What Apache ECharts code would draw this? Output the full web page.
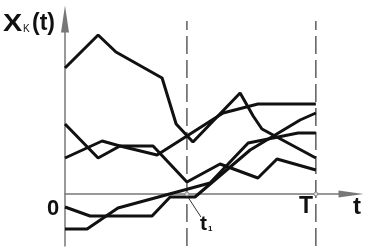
<!DOCTYPE html>
<html><head><meta charset="utf-8">
<script src="https://cdn.jsdelivr.net/npm/echarts@6/dist/echarts.min.js"></script>
<style>html,body{margin:0;padding:0;background:#fff}#c{width:372px;height:249px}</style>
</head><body><div id="c"></div>
<script>
// time positions (T = 10) and values for each trajectory x_k(t)
const tA = [0, 1.32, 2.03, 3.87, 4.43, 5.10, 6.98, 7.50, 7.85, 10];
const vA = [12.6, 15.9, 14.2, 11.6, 7.0, 5.2, 10.1, 7.8, 6.5, 3.6];
const tB = [0, 1.48, 2.19, 3.51, 4.86, 6.18, 7.69, 8.45, 10];
const vB = [3.6, 5.3, 4.8, 4.8, 1.2, 3.0, 1.6, 3.5, 2.4];
const tC = [0, 1.32, 2.19, 3.67, 6.30, 7.69, 10];
const vC = [7.0, 3.6, 4.8, 3.9, 8.1, 9.0, 9.0];
const tD = [0, 1.0, 3.47, 4.19, 5.18, 7.38, 9.37, 10];
const vD = [-1.3, -2.2, -2.2, -0.3, -0.3, 4.4, 7.4, 8.1];
const tE = [0, 0.88, 2.11, 5.78, 7.30, 9.29, 10];
const vE = [-3.5, -3.5, -1.4, 1.1, 5.1, 6.1, 6.1];
const t1 = 4.86;
const T = 10;
const yLabel = ['X', 'K', '(t)'];
const tickLabels = ['0', 't', '1', 'T', 't'];

const zip = (t, v) => t.map((x, i) => [x, v[i]]);
const curves = [[tA, vA], [tB, vB], [tC, vC], [tD, vD], [tE, vE]];
const yMin = -5.2, yMax = 17.5, dashTop = 17.3;

const chart = echarts.init(document.getElementById('c'), null, {renderer: 'canvas'});
const series = curves.map(([t, v]) => ({
  type: 'line', data: zip(t, v), symbol: 'none', silent: true,
  lineStyle: {color: '#111', width: 3}, z: 5
}));
[t1, T].forEach(x => series.push({
  type: 'line', data: [[x, yMin], [x, dashTop]], symbol: 'none', silent: true,
  lineStyle: {color: '#333', width: 1.2, type: [18, 6]}, z: 3
}));
series.push({
  type: 'scatter', data: [[t1, 0], [T, 0]], symbol: 'circle', symbolSize: 4,
  itemStyle: {color: '#fff', borderColor: '#777', borderWidth: 1}, z: 6, silent: true
});

chart.setOption({
  animation: false,
  backgroundColor: '#fff',
  grid: {left: 65, top: 19, width: 286, height: 227, containLabel: false, outerBoundsMode: 'none'},
  xAxis: {
    type: 'value', min: 0, max: 11.4,
    axisLine: {onZero: true, lineStyle: {color: '#777', width: 1.5}, symbol: ['none', 'triangle'], symbolSize: [7, 25]},
    axisTick: {show: false}, axisLabel: {show: false}, splitLine: {show: false}
  },
  yAxis: {
    type: 'value', min: yMin, max: yMax,
    axisLine: {show: true, lineStyle: {color: '#777', width: 1.5}, symbol: ['none', 'triangle'], symbolSize: [8, 27]},
    axisTick: {show: false}, axisLabel: {show: false}, splitLine: {show: false}
  },
  series: series
});

const o = chart.convertToPixel({gridIndex: 0}, [0, 0]);
const p1 = chart.convertToPixel({gridIndex: 0}, [t1, 0]);
const pT = chart.convertToPixel({gridIndex: 0}, [T, 0]);
const font = '"Liberation Sans", Arial, sans-serif';
const txt = (s, x, y, size, bold, sx) => ({
  type: 'text', x: x, y: y, scaleX: sx || 1, silent: true,
  style: {text: s, fontSize: size, fontWeight: bold ? 'bold' : 'normal', fontFamily: font, fill: '#111', align: 'left', verticalAlign: 'middle'}
});
chart.setOption({
  graphic: [
    txt(yLabel[0], 3, 24, 24, true, 1.2),
    txt(yLabel[1], 23, 29, 10, false),
    txt(yLabel[2], 32, 24, 23, true),
    txt(tickLabels[0], o[0] - 18, o[1] + 15, 22, true),
    txt(tickLabels[1], p1[0] + 13, p1[1] + 30, 21, true),
    txt(tickLabels[2], p1[0] + 21, p1[1] + 35, 8, true),
    txt(tickLabels[3], pT[0] - 17, pT[1] + 13, 23, true),
    txt(tickLabels[4], 353, o[1] + 13, 24, true),
    {type: 'line', silent: true, shape: {x1: p1[0] + 1, y1: p1[1] + 3, x2: p1[0] + 14, y2: p1[1] + 23}, style: {stroke: '#333', lineWidth: 1}}
  ]
});
</script></body></html>
